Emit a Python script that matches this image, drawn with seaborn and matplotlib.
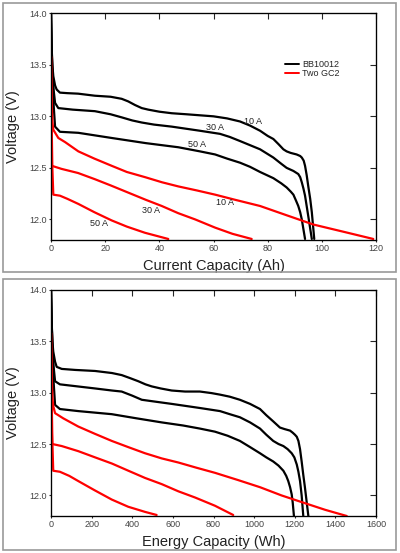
import pandas as pd
import matplotlib.pyplot as plt
import seaborn as sns
from matplotlib.patches import Rectangle

# CONFIG
sns.set_style("white")
plt.rcParams["font.family"] = ["Liberation Sans", "DejaVu Sans"]

# DATA - current capacity (Ah)
bb10_ah = [0, 0.2, 0.5, 0.85, 1.5, 2.1, 3.3, 6, 10, 16.2, 22, 26.1, 28.5, 31.0, 33.5, 35.9, 40, 44.6, 50, 55, 60, 65, 69.8, 73.5, 77.2, 80, 82.1, 84, 85.8, 87.0, 88.5, 90.7, 92.0, 92.6, 93.3, 93.8, 94.4, 95.0, 95.7, 96.3, 97.2]
bb10_ah_v = [14.0, 13.7, 13.5, 13.39, 13.30, 13.26, 13.23, 13.225, 13.22, 13.20, 13.19, 13.17, 13.145, 13.11, 13.08, 13.065, 13.045, 13.03, 13.02, 13.01, 13.0, 12.98, 12.95, 12.91, 12.86, 12.81, 12.78, 12.73, 12.68, 12.66, 12.645, 12.63, 12.615, 12.60, 12.57, 12.52, 12.43, 12.32, 12.20, 12.07, 11.81]
bb30_ah = [0, 0.2, 0.5, 1.0, 1.5, 2.7, 8, 16.2, 22, 26.1, 30, 33.5, 38, 44.6, 55, 62.4, 66, 69.8, 73.5, 77.2, 82.1, 85, 87.0, 89.5, 91.3, 92.0, 92.6, 93.2, 93.8, 94.4, 95.0, 96.3]
bb30_ah_v = [14.0, 13.7, 13.45, 13.25, 13.13, 13.08, 13.065, 13.05, 13.02, 12.99, 12.96, 12.94, 12.92, 12.90, 12.86, 12.83, 12.80, 12.76, 12.72, 12.68, 12.60, 12.54, 12.50, 12.47, 12.44, 12.41, 12.36, 12.30, 12.23, 12.13, 12.03, 11.81]
bb50_ah = [0, 0.2, 0.5, 1.0, 1.5, 3.3, 10.1, 22.4, 35, 47, 55, 60.6, 65, 69.8, 73.5, 77.2, 82.1, 85, 87.0, 88.5, 89.5, 90.5, 91.3, 92.0, 92.6, 93.8]
bb50_ah_v = [14.0, 13.7, 13.4, 13.1, 12.90, 12.85, 12.84, 12.79, 12.74, 12.70, 12.66, 12.63, 12.59, 12.55, 12.51, 12.46, 12.40, 12.35, 12.31, 12.27, 12.24, 12.18, 12.13, 12.07, 12.00, 11.81]
gc10_ah = [0, 0.2, 0.5, 0.85, 2.7, 5.2, 10.1, 16, 22.4, 28, 34.7, 41, 47, 54, 60.6, 68, 77.2, 87, 96.9, 108, 119]
gc10_ah_v = [13.58, 13.2, 12.95, 12.87, 12.79, 12.75, 12.66, 12.59, 12.52, 12.46, 12.41, 12.36, 12.32, 12.28, 12.24, 12.19, 12.13, 12.04, 11.95, 11.88, 11.81]
gc30_ah = [0, 0.1, 0.2, 0.3, 3.9, 10, 16.2, 22, 28.5, 35, 40.9, 47, 53.2, 60.6, 67, 74.1]
gc30_ah_v = [13.58, 13.0, 12.7, 12.52, 12.49, 12.45, 12.39, 12.33, 12.26, 12.19, 12.13, 12.06, 12.00, 11.92, 11.86, 11.81]
gc50_ah = [0, 0.2, 0.5, 0.85, 3.3, 6, 10.1, 16, 22.4, 28, 34.7, 43.3]
gc50_ah_v = [13.58, 13.0, 12.5, 12.24, 12.23, 12.20, 12.15, 12.07, 11.99, 11.93, 11.87, 11.81]

# DATA - energy capacity (Wh)
bb10_wh = [0, 3, 7, 11, 20, 28, 53, 120, 217, 300, 348, 390, 430, 465, 496, 540, 594, 660, 733, 790, 832, 880, 930, 980, 1029, 1060, 1094, 1127, 1150, 1177, 1190, 1201, 1210, 1218, 1226, 1234, 1242, 1250, 1267]
bb10_wh_v = [14.0, 13.7, 13.5, 13.40, 13.30, 13.25, 13.23, 13.22, 13.21, 13.19, 13.17, 13.14, 13.11, 13.08, 13.06, 13.04, 13.02, 13.01, 13.01, 12.995, 12.98, 12.96, 12.93, 12.89, 12.84, 12.78, 12.72, 12.66, 12.645, 12.63, 12.61, 12.59, 12.57, 12.53, 12.45, 12.33, 12.20, 12.08, 11.80]
bb30_wh = [0, 3, 7, 13, 20, 44, 217, 300, 348, 400, 447, 520, 594, 733, 832, 880, 930, 980, 1029, 1060, 1094, 1120, 1144, 1165, 1185, 1198, 1210, 1218, 1226, 1234, 1242]
bb30_wh_v = [14.0, 13.7, 13.45, 13.25, 13.11, 13.08, 13.04, 13.02, 13.01, 12.97, 12.93, 12.91, 12.89, 12.85, 12.82, 12.79, 12.76, 12.71, 12.65, 12.59, 12.53, 12.50, 12.48, 12.45, 12.41, 12.37, 12.30, 12.23, 12.14, 12.00, 11.80]
bb50_wh = [0, 3, 7, 13, 20, 44, 134, 299, 420, 545, 650, 733, 807, 870, 930, 980, 1029, 1060, 1094, 1120, 1144, 1158, 1168, 1177, 1185, 1190, 1196]
bb50_wh_v = [14.0, 13.7, 13.4, 13.1, 12.88, 12.84, 12.82, 12.79, 12.75, 12.71, 12.68, 12.65, 12.62, 12.58, 12.53, 12.47, 12.41, 12.37, 12.33, 12.29, 12.24, 12.19, 12.14, 12.08, 12.01, 11.93, 11.80]
gc10_wh = [0, 3, 7, 11, 20, 60, 134, 215, 299, 380, 463, 545, 627, 715, 807, 920, 1029, 1135, 1242, 1350, 1456]
gc10_wh_v = [13.58, 13.2, 12.95, 12.87, 12.80, 12.75, 12.67, 12.60, 12.53, 12.47, 12.41, 12.36, 12.32, 12.27, 12.22, 12.15, 12.08, 12.00, 11.93, 11.86, 11.80]
gc30_wh = [0, 1.5, 3, 6, 53, 135, 217, 300, 381, 463, 545, 627, 709, 807, 897]
gc30_wh_v = [13.58, 13.0, 12.7, 12.50, 12.48, 12.43, 12.37, 12.31, 12.24, 12.17, 12.11, 12.04, 11.98, 11.90, 11.81]
gc50_wh = [0, 3, 7, 11, 44, 90, 134, 215, 299, 380, 463, 520]
gc50_wh_v = [13.58, 13.0, 12.5, 12.24, 12.23, 12.19, 12.14, 12.05, 11.96, 11.89, 11.84, 11.81]

batteries = ["BB10012", "Two GC2"]
colors = {"BB10012": "black", "Two GC2": "#ff0000"}
y_ticks = [12.0, 12.5, 13.0, 13.5, 14.0]

# rate labels in the top panel: (text, x, y)
rate_labels = [
    ("10 A", 74.7, 12.95), ("30 A", 60.4, 12.895), ("50 A", 53.8, 12.73),
    ("10 A", 64.2, 12.16), ("30 A", 36.9, 12.09), ("50 A", 17.7, 11.96),
]


def make_df(curves):
    rows = []
    for batt, rate, xs, vs in curves:
        for x, v in zip(xs, vs):
            rows.append({"cap": x, "volt": v, "battery": batt, "rate": rate})
    return pd.DataFrame(rows)


df_ah = make_df([
    ("BB10012", "10 A", bb10_ah, bb10_ah_v), ("BB10012", "30 A", bb30_ah, bb30_ah_v),
    ("BB10012", "50 A", bb50_ah, bb50_ah_v), ("Two GC2", "10 A", gc10_ah, gc10_ah_v),
    ("Two GC2", "30 A", gc30_ah, gc30_ah_v), ("Two GC2", "50 A", gc50_ah, gc50_ah_v),
])
df_wh = make_df([
    ("BB10012", "10 A", bb10_wh, bb10_wh_v), ("BB10012", "30 A", bb30_wh, bb30_wh_v),
    ("BB10012", "50 A", bb50_wh, bb50_wh_v), ("Two GC2", "10 A", gc10_wh, gc10_wh_v),
    ("Two GC2", "30 A", gc30_wh, gc30_wh_v), ("Two GC2", "50 A", gc50_wh, gc50_wh_v),
])

fig = plt.figure(figsize=(4.0, 5.53), dpi=100)
ax1 = fig.add_axes([0.1275, 0.566, 0.8125, 0.41])
ax2 = fig.add_axes([0.1275, 0.0669, 0.8125, 0.4092])

# panel frames
for y0, h in [(0.508, 0.4864), (0.0054, 0.49)]:
    fig.patches.append(Rectangle((0.0075, y0), 0.9825, h, transform=fig.transFigure,
                                 fill=False, edgecolor="#999999", lw=1.2))


def style_axes(ax, xmax, xstep, xlabel):
    xt = list(range(0, xmax + 1, xstep))
    ax.set_xlim(0, xmax)
    ax.set_ylim(11.8, 14.0)
    ax.set_xticks(xt)
    ax.set_yticks(y_ticks)
    ax.set_yticklabels([f"{t:.1f}" for t in y_ticks])
    ax.tick_params(direction="in", length=4.5, width=0.8, labelsize=6.5,
                   labelcolor="#444444", color="black", pad=3)
    for s in ax.spines.values():
        s.set_color("black")
        s.set_linewidth(0.9)
    # short outside stubs on left / bottom, inward ticks on top / right
    bot = ax.secondary_xaxis("bottom")
    bot.set_xticks(xt)
    bot.tick_params(direction="out", length=1.5, width=0.8, labelbottom=False)
    left = ax.secondary_yaxis("left")
    left.set_yticks(y_ticks)
    left.tick_params(direction="out", length=1.5, width=0.8, labelleft=False)
    top = ax.secondary_xaxis("top")
    top.set_xticks(xt)
    top.tick_params(direction="in", length=4.5, width=0.8, labeltop=False)
    right = ax.secondary_yaxis("right")
    right.set_yticks(y_ticks)
    right.tick_params(direction="in", length=4.5, width=0.8, labelright=False)
    ax.set_xlabel(xlabel, fontsize=10.5, color="#222222")
    ax.set_ylabel("Voltage (V)", fontsize=10.5, color="#222222")
    ax.xaxis.set_label_coords(0.5, -0.115)
    ax.yaxis.set_label_coords(-0.117, 0.5)
    ax.xaxis.label.set_va("center")
    ax.yaxis.label.set_va("center")


sns.lineplot(data=df_ah, x="cap", y="volt", hue="battery", units="rate",
             estimator=None, sort=False, palette=colors, hue_order=batteries,
             lw=1.6, ax=ax1)
sns.lineplot(data=df_wh, x="cap", y="volt", hue="battery", units="rate",
             estimator=None, sort=False, palette=colors, hue_order=batteries,
             lw=1.6, legend=False, ax=ax2)

style_axes(ax1, 120, 20, "Current Capacity (Ah)")
style_axes(ax2, 1600, 200, "Energy Capacity (Wh)")

for text, x, y in rate_labels:
    ax1.text(x, y, text, fontsize=6.5, color="#222222", ha="center", va="center")

leg = ax1.legend(loc="upper left", bbox_to_anchor=(0.705, 0.815), frameon=False,
                 fontsize=6.5, handlelength=1.6, handletextpad=0.3,
                 labelspacing=0.05, borderpad=0)
for line in leg.get_lines():
    line.set_linewidth(1.4)

fig.savefig("out.png", dpi=100)
